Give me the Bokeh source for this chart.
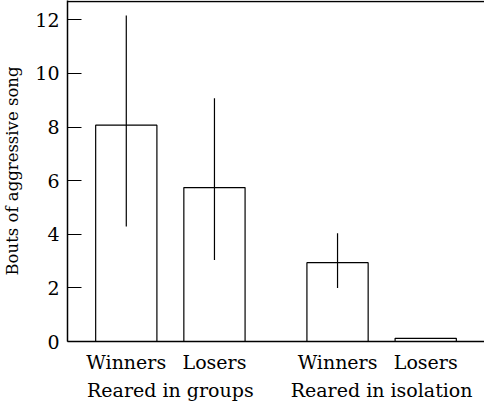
from bokeh.plotting import figure
from bokeh.models import FactorRange, Range1d, ColumnDataSource, Span, FixedTicker
from bokeh.embed import file_html
from bokeh.resources import INLINE

groups = ["Reared in groups", "Reared in isolation"]
outcomes = ["Winners", "Losers"]
means = [8.07, 5.74, 2.94, 0.12]
err_low = [4.29, 3.04, 2.00, 0.12]
err_high = [12.16, 9.07, 4.04, 0.12]
y_ticks = [0, 2, 4, 6, 8, 10, 12]

factors = [(g, o) for g in groups for o in outcomes]
src = ColumnDataSource(dict(x=factors, top=means, lo=err_low, hi=err_high))

FONT = "DejaVu Serif"
Y_END = 12.72

p = figure(
    x_range=FactorRange(*factors, factor_padding=0.44, group_padding=1.01,
                        range_padding=0.46, range_padding_units="absolute"),
    y_range=Range1d(0, Y_END),
    width=484, height=403,
    output_backend="svg", toolbar_location=None,
    min_border_left=64, min_border_right=0, min_border_top=0, min_border_bottom=40,
)
p.outline_line_color = None
p.grid.visible = False
p.background_fill_color = "white"

p.vbar(x="x", top="top", width=1.0, source=src,
       fill_color="white", line_color="black", line_width=1.2)
p.segment(x0="x", y0="lo", x1="x", y1="hi", source=src,
          line_color="black", line_width=1.2)

# top border line, just inside the frame
p.add_layout(Span(location=Y_END - 0.04, dimension="width",
                  line_color="black", line_width=1.5))

# y axis
p.yaxis.ticker = FixedTicker(ticks=y_ticks)
p.yaxis.minor_tick_line_color = None
p.yaxis.major_tick_in = 14
p.yaxis.major_tick_out = 0
p.yaxis.major_tick_line_color = "black"
p.yaxis.axis_line_color = "black"
p.yaxis.axis_line_width = 1.5
p.yaxis.major_label_standoff = 8
p.yaxis.major_label_text_font = FONT
p.yaxis.major_label_text_font_size = "19px"
p.yaxis.major_label_text_color = "black"
p.yaxis.axis_label = "Bouts of aggressive song"
p.yaxis.axis_label_text_font = FONT
p.yaxis.axis_label_text_font_size = "16.5px"
p.yaxis.axis_label_text_font_style = "normal"
p.yaxis.axis_label_text_color = "black"
p.yaxis.axis_label_standoff = 10

# x axis
p.xaxis.major_tick_line_color = None
p.xaxis.minor_tick_line_color = None
p.xaxis.axis_line_color = "black"
p.xaxis.axis_line_width = 1.5
p.xaxis.separator_line_alpha = 0
p.xaxis.major_label_text_font = FONT
p.xaxis.major_label_text_font_size = "19px"
p.xaxis.major_label_text_color = "black"
p.xaxis.group_text_font = FONT
p.xaxis.group_text_font_size = "19px"
p.xaxis.group_text_font_style = "normal"
p.xaxis.group_text_color = "black"
p.xaxis.major_label_standoff = 3

open("out.html", "w").write(file_html(p, INLINE))
